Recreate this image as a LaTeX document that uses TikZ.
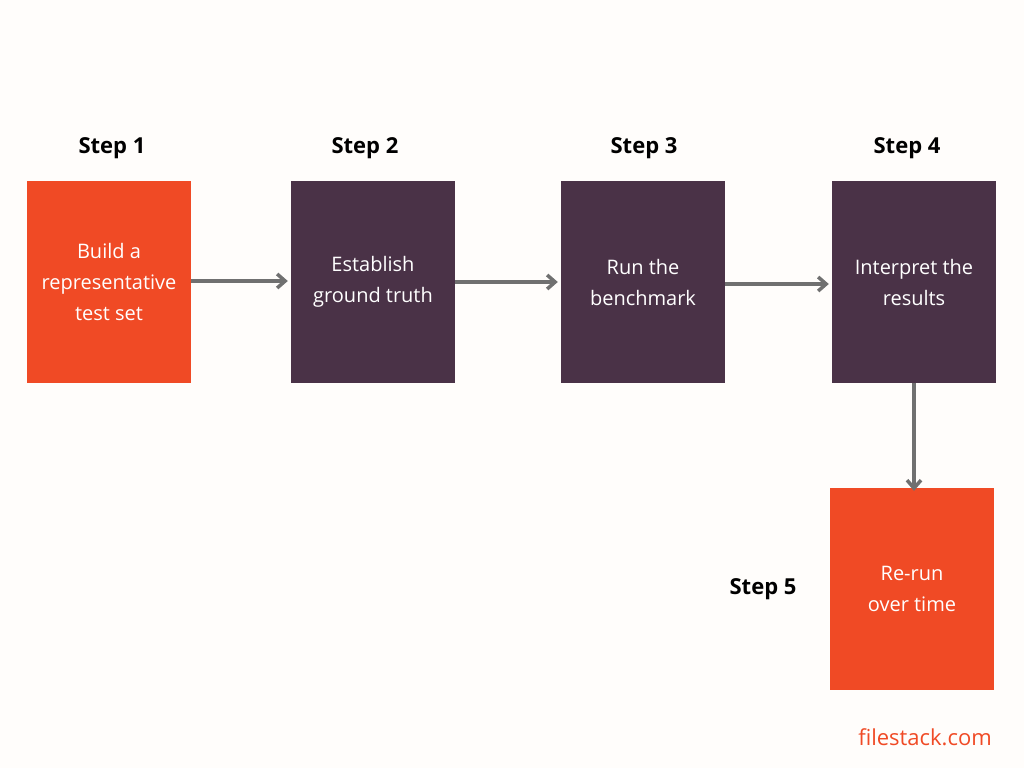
\documentclass[tikz,border=0pt]{standalone}
\usepackage{fontspec}
\setmainfont{Open Sans}
\usetikzlibrary{arrows.meta}
\definecolor{orng}{HTML}{F04A25}
\definecolor{purp}{HTML}{4A3247}
\definecolor{bg}{HTML}{FFFDFB}
\definecolor{arr}{HTML}{707070}
\begin{document}
\begin{tikzpicture}[x=1pt,y=-1pt,
 box/.style={minimum width=164pt,minimum height=202pt,inner sep=0pt,text=white,align=center,font=\fontsize{20}{31}\selectfont},
 steplbl/.style={font=\fontsize{22}{26}\selectfont\bfseries},
 con/.style={draw=arr,line width=3.5pt,-{Straight Barb[length=8pt,width=14pt,line width=3.5pt]}}]
\fill[bg] (0,0) rectangle (1024,768);
\useasboundingbox (0,0) rectangle (1024,768);
\node[box,fill=orng] (b1) at (109,282) {Build a\\representative\\test set};
\node[box,fill=purp] (b2) at (373,282) {Establish\\ground truth};
\node[box,fill=purp] (b3) at (643,282) {Run the\\benchmark};
\node[box,fill=purp] (b4) at (914,282) {Interpret the\\results};
\node[box,fill=orng] (b5) at (912,589) {Re-run\\over time};
\node[steplbl] (s1) at (112,148) {Step 1};
\node[steplbl] (s2) at (365,148) {Step 2};
\node[steplbl] (s3) at (644,148) {Step 3};
\node[steplbl] (s4) at (907,148) {Step 4};
\node[steplbl] (s5) at (763,589) {Step 5};
\node[text=orng,font=\fontsize{22}{26}\selectfont] (fs) at (925,737) {filestack.com};
\draw[con] (b1.east |- 0,281) -- ([xshift=-3pt]b2.west |- 0,281);
\draw[con] (b2.east |- 0,282) -- ([xshift=-3pt]b3.west |- 0,282);
\draw[con] (b3.east |- 0,284) -- ([xshift=-3pt]b4.west |- 0,284);
\draw[con] (b4.south) -- ([yshift=-3pt]b5.north -| b4.south);
\end{tikzpicture}
\end{document}
